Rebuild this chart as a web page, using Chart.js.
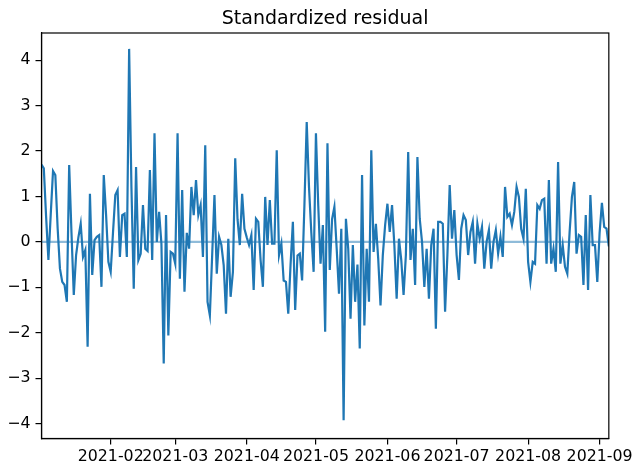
<!DOCTYPE html>
<html>
<head>
<meta charset="utf-8">
<script src="https://cdn.jsdelivr.net/npm/chart.js@4"></script>
<style>
  html, body { margin: 0; padding: 0; background: #fff; }
  canvas { display: block; }
</style>
</head>
<body>
<canvas id="graficaResiduo" width="636" height="468"></canvas>
<script>
const titulo = 'Standardized residual';
const fechaInicio = '2021-01-02';

// residuo estandarizado, un valor por dia desde fechaInicio
const residuos = [
    1.70, 1.62, 0.55, -0.40, 0.60, 1.56, 1.47, 0.30, -0.59, -0.88,
    -0.95, -1.32, 1.69, 0.20, -1.17, -0.29, 0.10, 0.40, -0.33, -0.18,
    -2.31, 1.06, -0.73, 0.04, 0.11, 0.15, -0.99, 1.47, 0.60, -0.44,
    -0.66, 0.20, 1.03, 1.14, -0.33, 0.59, 0.62, -0.33, 4.25, 1.20,
    -1.03, 1.65, -0.40, -0.26, 0.81, -0.15, -0.20, 1.58, -0.40, 2.39,
    0.00, 0.66, -0.04, -2.68, 0.59, -2.06, -0.22, -0.26, -0.48, 2.39,
    -0.81, 1.14, -1.10, 0.20, -0.15, 1.21, 0.59, 1.36, 0.59, 0.81,
    -0.33, 2.13, -1.32, -1.62, -0.30, 1.03, -0.70, 0.11, -0.07, -0.51,
    -1.58, 0.07, -1.21, -0.66, 1.84, 0.50, -0.07, 1.06, 0.29, 0.10,
    -0.07, 0.15, -1.06, 0.51, 0.44, -0.40, -0.99, 0.99, -0.07, 0.92,
    -0.04, -0.04, 2.02, -0.29, -0.04, -0.85, -0.88, -1.58, -0.50, 0.44,
    -1.50, -0.30, -0.26, -0.85, 0.80, 2.64, 1.20, 0.20, -0.66, 2.39,
    0.80, -0.48, 0.37, -1.98, 2.17, -0.62, 0.50, 0.77, -0.15, -1.14,
    0.29, -3.93, 0.51, -0.15, -1.69, -0.07, -1.32, -0.50, -2.35, 1.47,
    -1.84, -0.15, -1.32, 2.02, -0.22, 0.40, -0.37, -1.40, -0.29, 0.37,
    0.84, 0.22, 0.81, -0.07, -1.25, 0.07, -0.40, -1.17, -0.29, 1.98,
    -0.40, 0.29, -0.95, 1.87, 0.51, 0.00, -0.99, -0.15, -1.25, -0.07,
    0.29, -1.91, 0.44, 0.44, 0.40, -1.54, -0.29, 1.25, 0.07, 0.70,
    -0.29, -0.84, 0.29, 0.59, 0.48, -0.29, 0.22, 0.44, -0.48, 0.40,
    0.07, 0.33, -0.59, 0.00, 0.26, -0.59, 0.00, 0.26, -0.26, 0.11,
    -0.33, 1.21, 0.55, 0.62, 0.37, 0.66, 1.21, 0.99, 0.29, 0.07,
    1.17, -0.44, -0.88, -0.44, -0.48, 0.81, 0.73, 0.92, 0.95, -0.48,
    1.36, -0.48, -0.15, -0.66, 1.76, -0.48, -0.07, -0.55, -0.70, 0.22,
    0.99, 1.32, -0.26, 0.15, 0.11, -0.95, 0.59, -1.06, 1.03, -0.07,
    -0.07, -0.88, 0.20, 0.86, 0.33, 0.29, -0.10
];

const etiquetasMes = ['2021-02', '2021-03', '2021-04', '2021-05', '2021-06', '2021-07', '2021-08', '2021-09'];
const marcasY = [-4, -3, -2, -1, 0, 1, 2, 3, 4];
const limiteY = [-4.33, 4.60];

const azul = '#1f77b4';
const fuente = '"DejaVu Sans", sans-serif';

// dia (contado desde fechaInicio) en que empieza cada mes
function diaDe(texto){
    const inicio = new Date(fechaInicio + 'T00:00:00Z');
    const fecha = new Date(texto + '-01T00:00:00Z');
    return Math.round((fecha - inicio) / 86400000);
}
const diasMes = etiquetasMes.map(diaDe);

const puntos = residuos.map((v, i) => ({x: i, y: v}));
const ultimo = residuos.length - 1;

const marco = {
    id: 'marco',
    afterDraw(chart){
        const {ctx, chartArea: a} = chart;
        ctx.save();
        ctx.strokeStyle = '#000';
        ctx.lineWidth = 1.2;
        ctx.strokeRect(a.left, a.top, a.right - a.left, a.bottom - a.top);
        ctx.fillStyle = '#000';
        ctx.font = '19px ' + fuente;
        ctx.textAlign = 'center';
        ctx.textBaseline = 'alphabetic';
        ctx.fillText(titulo, (a.left + a.right) / 2, 24);
        ctx.restore();
    }
};

new Chart(document.getElementById('graficaResiduo'), {
    type: 'line',
    data: {
        datasets: [{
            data: puntos,
            borderColor: azul,
            borderWidth: 2.2,
            pointRadius: 0,
            tension: 0,
            fill: false
        }, {
            data: [{x: 0, y: 0}, {x: ultimo, y: 0}],
            borderColor: 'rgba(31,119,180,0.5)',
            borderWidth: 2.2,
            pointRadius: 0,
            fill: false
        }]
    },
    options: {
        responsive: false,
        animation: false,
        layout: {
            padding: {left: 0, right: 24.3, top: 33, bottom: 0}
        },
        plugins: {
            legend: {display: false},
            tooltip: {enabled: false},
            title: {display: false}
        },
        scales: {
            x: {
                type: 'linear',
                min: 0,
                max: ultimo,
                afterBuildTicks: s => { s.ticks = diasMes.map(d => ({value: d})); },
                afterFit: s => { s.height = 29.5; },
                grid: {drawOnChartArea: false, drawTicks: true, tickLength: 6, color: '#000', lineWidth: 1.2},
                border: {display: true, color: '#000', width: 1.2},
                ticks: {
                    autoSkip: false,
                    maxRotation: 0,
                    padding: 3,
                    color: '#000',
                    font: {family: fuente, size: 15.8},
                    callback: v => etiquetasMes[diasMes.indexOf(v)]
                }
            },
            y: {
                type: 'linear',
                min: limiteY[0],
                max: limiteY[1],
                afterBuildTicks: s => { s.ticks = marcasY.map(v => ({value: v})); },
                afterFit: s => { s.width = 41.5; },
                grid: {drawOnChartArea: false, drawTicks: true, tickLength: 6, color: '#000', lineWidth: 1.2},
                border: {display: true, color: '#000', width: 1.2},
                ticks: {
                    padding: 5,
                    color: '#000',
                    font: {family: fuente, size: 15.8},
                    callback: v => v < 0 ? '\u2212' + Math.abs(v) : String(v)
                }
            }
        }
    },
    plugins: [marco]
});
</script>
</body>
</html>
